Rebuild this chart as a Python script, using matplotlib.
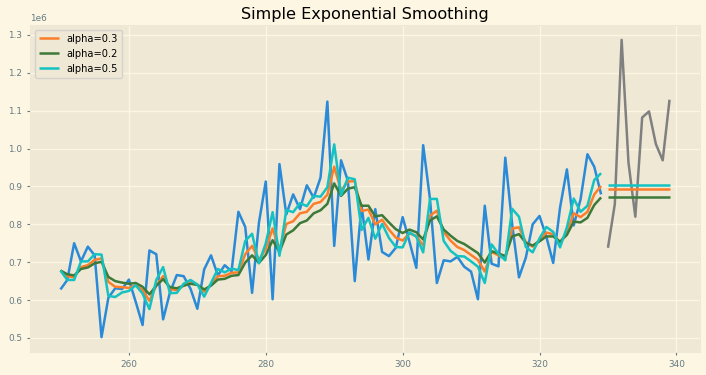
import numpy as np
import matplotlib
matplotlib.use("Agg")
import matplotlib.pyplot as plt

# observed series (units of 1e6), index 250..329 train, 330..339 test
train_idx = list(range(250, 330))
test_idx = list(range(330, 340))

train = [
    0.628, 0.653, 0.750, 0.702, 0.741, 0.718, 0.502, 0.606, 0.631, 0.629,
    0.654, 0.595, 0.534, 0.731, 0.721, 0.549, 0.620, 0.666, 0.663, 0.630,
    0.577, 0.681, 0.718, 0.665, 0.692, 0.676, 0.833, 0.793, 0.619, 0.804,
    0.913, 0.602, 0.959, 0.826, 0.879, 0.840, 0.903, 0.870, 0.923, 1.124,
    0.743, 0.969, 0.915, 0.650, 0.850, 0.707, 0.840, 0.727, 0.716, 0.738,
    0.819, 0.754, 0.685, 1.009, 0.866, 0.645, 0.705, 0.702, 0.714, 0.688,
    0.675, 0.602, 0.849, 0.696, 0.689, 0.976, 0.800, 0.660, 0.712, 0.800,
    0.822, 0.767, 0.698, 0.844, 0.945, 0.797, 0.866, 0.985, 0.952, 0.879,
]
test = [0.738, 0.853, 1.287, 0.963, 0.820, 1.082, 1.098, 1.012, 0.969, 1.129]

# fitted values
fit_a3 = [
    0.678, 0.663, 0.660, 0.687, 0.692, 0.706, 0.710, 0.648, 0.635, 0.634,
    0.632, 0.639, 0.626, 0.598, 0.638, 0.663, 0.629, 0.626, 0.638, 0.646,
    0.641, 0.622, 0.640, 0.663, 0.664, 0.672, 0.673, 0.721, 0.743, 0.706,
    0.735, 0.789, 0.733, 0.801, 0.808, 0.829, 0.833, 0.854, 0.859, 0.878,
    0.952, 0.889, 0.913, 0.914, 0.835, 0.839, 0.800, 0.812, 0.786, 0.765,
    0.757, 0.776, 0.769, 0.744, 0.823, 0.836, 0.779, 0.757, 0.740, 0.732,
    0.719, 0.706, 0.675, 0.727, 0.718, 0.709, 0.789, 0.792, 0.753, 0.741,
    0.758, 0.778, 0.774, 0.752, 0.779, 0.829, 0.819, 0.833, 0.879, 0.901,
]
fit_a2 = [
    0.678, 0.668, 0.665, 0.682, 0.686, 0.697, 0.701, 0.661, 0.650, 0.646,
    0.643, 0.645, 0.635, 0.615, 0.638, 0.655, 0.634, 0.631, 0.638, 0.643,
    0.640, 0.628, 0.638, 0.654, 0.656, 0.664, 0.666, 0.699, 0.718, 0.698,
    0.719, 0.758, 0.727, 0.773, 0.784, 0.803, 0.810, 0.829, 0.837, 0.854,
    0.908, 0.875, 0.894, 0.898, 0.849, 0.849, 0.821, 0.824, 0.805, 0.787,
    0.777, 0.786, 0.779, 0.760, 0.810, 0.821, 0.786, 0.770, 0.756, 0.748,
    0.736, 0.724, 0.699, 0.729, 0.723, 0.716, 0.768, 0.774, 0.751, 0.744,
    0.755, 0.768, 0.768, 0.754, 0.772, 0.807, 0.805, 0.817, 0.851, 0.871,
]
fit_a5 = [
    0.678, 0.653, 0.653, 0.702, 0.702, 0.721, 0.720, 0.611, 0.608, 0.620,
    0.624, 0.639, 0.617, 0.576, 0.653, 0.687, 0.618, 0.619, 0.643, 0.653,
    0.641, 0.609, 0.645, 0.682, 0.673, 0.683, 0.679, 0.756, 0.775, 0.697,
    0.750, 0.832, 0.717, 0.838, 0.832, 0.856, 0.848, 0.875, 0.873, 0.898,
    1.011, 0.877, 0.923, 0.919, 0.785, 0.817, 0.762, 0.801, 0.764, 0.740,
    0.739, 0.779, 0.767, 0.726, 0.867, 0.867, 0.756, 0.730, 0.716, 0.715,
    0.702, 0.688, 0.645, 0.747, 0.722, 0.705, 0.841, 0.820, 0.740, 0.726,
    0.763, 0.793, 0.780, 0.739, 0.792, 0.868, 0.833, 0.849, 0.917, 0.935,
]

# flat forecast levels over the test period
fc_a3 = 0.894
fc_a2 = 0.871
fc_a5 = 0.905

plt.style.use("Solarize_Light2")
fig = plt.figure(figsize=(7.06, 3.75), dpi=100)
ax = fig.add_axes([0.0425, 0.0613, 0.949, 0.872])

c_orange = "#fd7e2a"
c_green = "#3d7a3a"
c_cyan = "#14c2c2"

scale = 1e6
ax.plot(train_idx, np.array(train) * scale, color="#2a8ad8", lw=1.8)
ax.plot(test_idx, np.array(test) * scale, color="gray", lw=1.8)

ax.plot(train_idx, np.array(fit_a3) * scale, color=c_orange, lw=1.8, label="alpha=0.3")
ax.plot(test_idx, np.full(len(test_idx), fc_a3) * scale, color=c_orange, lw=1.8)
ax.plot(train_idx, np.array(fit_a2) * scale, color=c_green, lw=1.8, label="alpha=0.2")
ax.plot(test_idx, np.full(len(test_idx), fc_a2) * scale, color=c_green, lw=1.8)
ax.plot(train_idx, np.array(fit_a5) * scale, color=c_cyan, lw=1.8, label="alpha=0.5")
ax.plot(test_idx, np.full(len(test_idx), fc_a5) * scale, color=c_cyan, lw=1.8)

ax.set_title("Simple Exponential Smoothing", fontsize=11.6, pad=4)
ax.set_xticks([260, 280, 300, 320, 340])
ax.set_yticks(np.arange(0.5, 1.31, 0.1) * scale)
ax.tick_params(labelsize=6.4, length=2)
ax.yaxis.get_offset_text().set_fontsize(6.4)
ax.legend(loc="upper left", fontsize=7.1)

fig.savefig("out.png", dpi=100)
